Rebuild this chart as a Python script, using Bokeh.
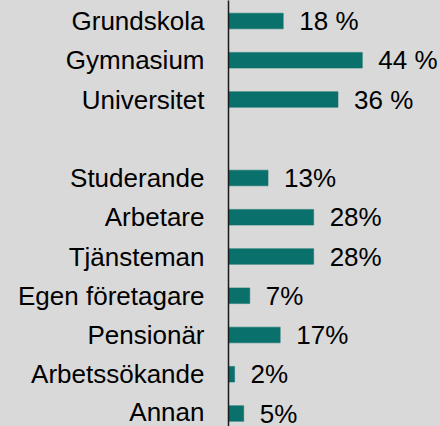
from bokeh.plotting import figure
from bokeh.models import Range1d, FixedTicker, ColumnDataSource
from bokeh.core.properties import value
from bokeh.embed import file_html
from bokeh.resources import INLINE

# Data
education = ["Grundskola", "Gymnasium", "Universitet"]
education_values = [18, 44, 36]
education_labels = ["18 %", "44 %", "36 %"]

occupation = ["Studerande", "Arbetare", "Tjänsteman", "Egen företagare",
              "Pensionär", "Arbetssökande", "Annan"]
occupation_values = [13, 28, 28, 7, 17, 2, 5]
occupation_labels = ["13%", "28%", "28%", "7%", "17%", "2%", "5%"]

names = education + occupation
vals = education_values + occupation_values
labels = education_labels + occupation_labels
# one empty slot between the two groups
pos = list(range(len(education))) + [len(education) + 1 + j for j in range(len(occupation))]

src = ColumnDataSource(dict(y=pos, v=vals, lab=labels))

BG = "#d9d9d9"
BAR = "#0a706b"
FONT = "Liberation Sans"

W, H = 440, 426
spacing = 39.25
top_px = 20.5
y_top = -top_px / spacing
y_bot = y_top + H / spacing

p = figure(width=W, height=H, output_backend="svg", toolbar_location=None,
           x_range=Range1d(0, 69.7), y_range=Range1d(start=y_bot, end=y_top),
           x_axis_location=None, min_border_left=228, min_border_right=0,
           min_border_top=0, min_border_bottom=0)
p.background_fill_color = BG
p.border_fill_color = BG
p.outline_line_color = None
p.grid.visible = False

p.hbar(y="y", right="v", left=0, height=0.4, source=src,
       fill_color=BAR, line_color=BAR, line_width=0.5)

p.text(x="v", y="y", text="lab", source=src, x_offset=16,
       text_baseline="middle", text_align="left",
       text_font=value(FONT), text_font_size="26px", text_color="#000000")

ax = p.yaxis[0]
ax.ticker = FixedTicker(ticks=pos)
ax.major_label_overrides = {k: n for k, n in zip(pos, names)}
ax.major_tick_line_color = None
ax.minor_tick_line_color = None
ax.major_tick_out = 0
ax.major_tick_in = 0
ax.major_label_standoff = 24
ax.major_label_text_font = FONT
ax.major_label_text_font_size = "26px"
ax.major_label_text_color = "#000000"
ax.axis_line_color = "#1a1a1a"
ax.axis_line_width = 1.5

html = file_html(p, INLINE)
html = html.replace("</head>", "<style>html, body {background: %s;}</style></head>" % BG, 1)
open("out.html", "w").write(html)
